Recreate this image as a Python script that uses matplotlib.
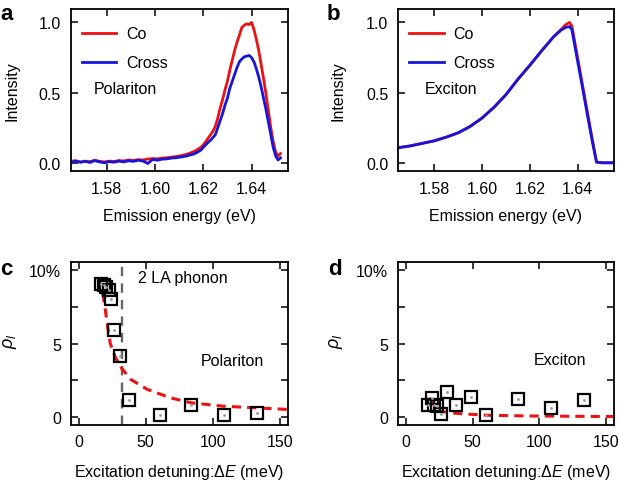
import numpy as np
import matplotlib
matplotlib.use('Agg')
import matplotlib.pyplot as plt

plt.rcParams['font.family'] = ['Liberation Sans', 'DejaVu Sans']
plt.rcParams['mathtext.fontset'] = 'custom'
plt.rcParams['mathtext.rm'] = 'Liberation Sans'
plt.rcParams['mathtext.it'] = 'Liberation Sans:italic'
plt.rcParams['font.size'] = 11.5

RED = '#ee1111'
BLUE = '#1515dd'

# panel a: polariton spectra
a_energy = [1.565, 1.567, 1.569, 1.571, 1.573, 1.575, 1.577, 1.579, 1.581, 1.583,
            1.585, 1.587, 1.589, 1.591, 1.593, 1.595, 1.597, 1.599, 1.601, 1.603,
            1.605, 1.607, 1.609, 1.611, 1.613, 1.615,
            1.616, 1.617, 1.618, 1.619, 1.620, 1.621, 1.622, 1.623, 1.624, 1.625,
            1.626, 1.627, 1.628, 1.629, 1.630, 1.631, 1.632, 1.633, 1.634, 1.635,
            1.636, 1.637, 1.638, 1.639, 1.640, 1.641, 1.642, 1.643, 1.644, 1.645,
            1.646, 1.647, 1.648, 1.649, 1.650, 1.651, 1.652]
a_co = [0.010, 0.015, 0.005, 0.012, 0.008, 0.018, 0.010, 0.006, 0.012, 0.009,
        0.016, 0.013, 0.020, 0.017, 0.022, 0.020, 0.027, 0.030, 0.028, 0.034,
        0.036, 0.041, 0.045, 0.052, 0.060, 0.072,
        0.080, 0.088, 0.100, 0.110, 0.128, 0.150, 0.175, 0.200, 0.225, 0.260,
        0.320, 0.390, 0.450, 0.520, 0.580, 0.660, 0.730, 0.800, 0.860, 0.910,
        0.965, 0.980, 0.990, 0.985, 1.000, 0.950, 0.880, 0.800, 0.700, 0.600,
        0.490, 0.370, 0.250, 0.150, 0.075, 0.050, 0.065]
a_cross = [0.000, 0.012, 0.004, 0.010, 0.002, 0.016, 0.006, 0.000, 0.008, 0.004,
           0.012, 0.006, 0.014, 0.010, 0.018, 0.012, -0.005, 0.024, 0.018, 0.026,
           0.028, 0.034, 0.036, 0.042, 0.048, 0.058,
           0.062, 0.070, 0.080, 0.090, 0.110, 0.128, 0.145, 0.160, 0.180, 0.200,
           0.250, 0.300, 0.350, 0.410, 0.460, 0.530, 0.580, 0.630, 0.680, 0.720,
           0.740, 0.755, 0.760, 0.765, 0.750, 0.720, 0.670, 0.610, 0.540, 0.460,
           0.380, 0.290, 0.200, 0.110, 0.050, 0.020, 0.035]

# panel b: exciton spectra
b_energy = [1.565, 1.570, 1.575, 1.580, 1.585, 1.590, 1.595, 1.600, 1.605, 1.610,
            1.615, 1.620, 1.625, 1.630, 1.633, 1.635, 1.6365, 1.6375, 1.640, 1.642,
            1.644, 1.646, 1.647, 1.6478, 1.650, 1.655]
b_co = [0.107, 0.120, 0.138, 0.156, 0.182, 0.213, 0.258, 0.318, 0.395, 0.485,
        0.595, 0.695, 0.800, 0.900, 0.950, 0.985, 1.000, 0.975, 0.740, 0.550,
        0.360, 0.170, 0.080, 0.005, 0.0, 0.0]
b_cross = [0.107, 0.120, 0.138, 0.156, 0.182, 0.213, 0.258, 0.318, 0.395, 0.485,
           0.595, 0.695, 0.800, 0.900, 0.945, 0.965, 0.970, 0.950, 0.715, 0.530,
           0.340, 0.155, 0.070, 0.005, 0.0, 0.0]

# panel c: polariton linear polarization degree
c_detuning = [16.7, 18.7, 20.7, 22.4, 24.2, 26.4, 31.1, 37.8, 60.4, 84.1, 108.2, 133.1]
c_rho = [9.04, 8.97, 8.86, 8.63, 7.99, 5.89, 4.13, 1.16, 0.18, 0.82, 0.18, 0.27]
c_fit_x = [17.9, 19.9, 21.6, 23.6, 27.4, 31.6, 38.6, 51, 68.4, 84.1, 108.2, 133.1, 156.5]
c_fit_y = [8.4, 7.26, 6.12, 4.98, 4.06, 3.38, 2.58, 1.9, 1.32, 0.98, 0.75, 0.64, 0.53]
phonon_energy = 32

# panel d: exciton linear polarization degree
d_detuning = [16.5, 19.2, 21.0, 23.0, 26.0, 30.4, 37.2, 49.0, 60.2, 84.0, 108.5, 133.5]
d_rho = [0.82, 1.32, 0.82, 0.75, 0.23, 1.71, 0.82, 1.39, 0.18, 1.21, 0.64, 1.14]
d_fit_x = [17.2, 21, 26, 33.5, 43.5, 61, 93.5, 155.5]
d_fit_y = [1.32, 0.87, 0.41, 0.3, 0.23, 0.14, 0.09, 0.05]


def style(ax):
    ax.tick_params(which='both', direction='in', top=True, right=True,
                   length=5, width=1.1, labelsize=11.5)
    ax.tick_params(axis='x', pad=7)
    ax.tick_params(axis='y', pad=7)
    for s in ax.spines.values():
        s.set_linewidth(1.3)


fig = plt.figure(figsize=(6.2, 4.81), dpi=100)
ax_a = fig.add_axes([0.114, 0.642, 0.350, 0.337])
ax_b = fig.add_axes([0.642, 0.642, 0.348, 0.337])
ax_c = fig.add_axes([0.114, 0.115, 0.350, 0.339])
ax_d = fig.add_axes([0.642, 0.115, 0.348, 0.339])

# spectra
for ax, e, co, cr, name, lx in [(ax_a, a_energy, a_co, a_cross, 'Polariton', 0.107),
                                (ax_b, b_energy, b_co, b_cross, 'Exciton', 0.125)]:
    ax.plot(e, co, color=RED, lw=2, label='Co')
    ax.plot(e, cr, color=BLUE, lw=2, label='Cross')
    ax.set_xlim(1.565, 1.655)
    ax.set_ylim(-0.06, 1.095)
    ax.set_xticks([1.58, 1.60, 1.62, 1.64])
    ax.set_xticklabels(['1.58', '1.60', '1.62', '1.64'])
    ax.set_yticks([0, 0.5, 1.0])
    ax.set_yticklabels(['0.0', '0.5', '1.0'])
    ax.set_xlabel('Emission energy (eV)')
    ax.set_ylabel('Intensity')
    ax.xaxis.set_label_coords(0.5, -0.225)
    ax.legend(loc='upper left', bbox_to_anchor=(0.052, 0.895), frameon=False,
              borderpad=0, borderaxespad=0, handlelength=2.15, handletextpad=0.6,
              labelspacing=0.9, fontsize=11.5)
    ax.text(lx, 0.513, name, transform=ax.transAxes, ha='left', va='center')
    style(ax)
ax_a.yaxis.set_label_coords(-0.238, 0.5)
ax_b.yaxis.set_label_coords(-0.245, 0.5)

# polarization degree
for ax, dx, rho, fx, fy in [(ax_c, c_detuning, c_rho, c_fit_x, c_fit_y),
                            (ax_d, d_detuning, d_rho, d_fit_x, d_fit_y)]:
    ax.plot(fx, fy, color=RED, lw=2.2, ls=(0, (3, 2)), zorder=2)
    ax.plot(dx, rho, ls='none', marker='s', ms=8, mfc='none', mec='black',
            mew=1.6, zorder=3)
    ax.plot(dx, rho, ls='none', marker='.', ms=2, color='0.6', zorder=3)
    ax.set_xlim(-6, 156)
    ax.set_ylim(-0.5, 10.55)
    ax.set_xticks([0, 50, 100, 150])
    ax.set_yticks([0, 5, 10])
    ax.set_yticklabels(['0', '5', '10%'])
    ax.set_yticks([2.5, 7.5], minor=True)
    ax.set_xlabel(r'Excitation detuning:$\Delta E$ (meV)')
    ax.set_ylabel(r'$\rho_l$', fontsize=13)
    ax.xaxis.set_label_coords(0.5, -0.228)
    style(ax)
ax_c.yaxis.set_label_coords(-0.24, 0.52)
ax_d.yaxis.set_label_coords(-0.245, 0.52)

ax_c.axvline(phonon_energy, color='0.4', lw=1.7, ls=(0, (4, 3)), zorder=1)
ax_c.text(0.311, 0.902, '2 LA phonon', transform=ax_c.transAxes, ha='left', va='center')
ax_c.text(0.600, 0.395, 'Polariton', transform=ax_c.transAxes, ha='left', va='center')
ax_d.text(0.630, 0.401, 'Exciton', transform=ax_d.transAxes, ha='left', va='center')

# panel letters
for x, y, s in [(0.0, 0.958, 'a'), (0.526, 0.958, 'b'),
                (0.0, 0.428, 'c'), (0.529, 0.428, 'd')]:
    fig.text(x, y, s, fontsize=16, fontweight='bold', ha='left', va='baseline')

fig.savefig('out.png', dpi=100)
